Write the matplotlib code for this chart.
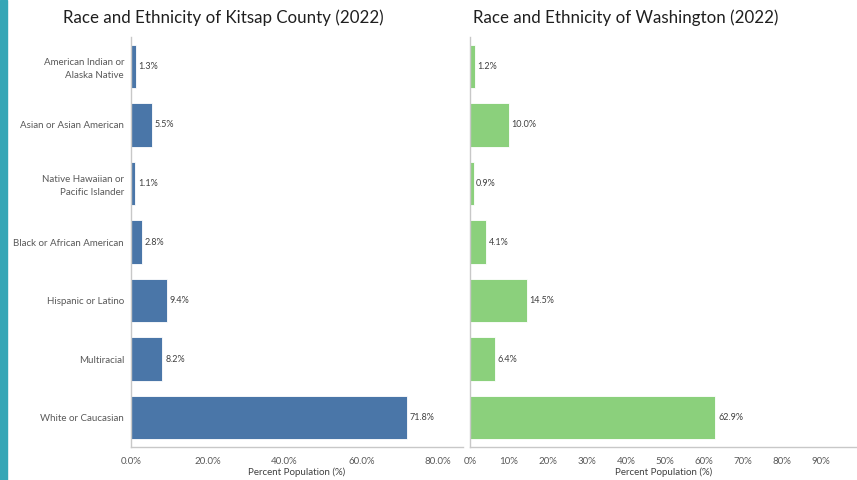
import matplotlib
matplotlib.use("Agg")
import matplotlib.pyplot as plt
from matplotlib.patches import Rectangle

plt.rcParams['font.family'] = ['Lato', 'DejaVu Sans']

categories = [
    'American Indian or\nAlaska Native',
    'Asian or Asian American',
    'Native Hawaiian or\nPacific Islander',
    'Black or African American',
    'Hispanic or Latino',
    'Multiracial',
    'White or Caucasian',
]
kitsap = [1.3, 5.5, 1.1, 2.8, 9.4, 8.2, 71.8]
washington = [1.2, 10.0, 0.9, 4.1, 14.5, 6.4, 62.9]

kitsap_ticks = [0, 20, 40, 60, 80]
wa_ticks = [0, 10, 20, 30, 40, 50, 60, 70, 80, 90]

BLUE = '#4a76a8'
GREEN = '#8bd07c'
TEXT = '#404040'
TICK = '#595959'
SPINE = '#c8c8c8'

fig = plt.figure(figsize=(8.57, 4.8), dpi=100)
fig.patches.append(Rectangle((0, 0), 7 / 857, 1, transform=fig.transFigure,
                             color='#35a6b6', zorder=-1))


def draw_panel(ax, values, color, ticks, fmt, xmax, show_labels):
    ypos = list(range(len(values)))
    ax.barh(ypos, values, height=0.74, color=color, edgecolor='white', linewidth=0.6)
    for y, v in zip(ypos, values):
        ax.text(v + 0.7, y, f'{v:.1f}%', va='center', ha='left',
                fontsize=6.5, color=TEXT)
    ax.set_ylim(6.5, -0.5)
    ax.set_xlim(0, xmax)
    ax.set_yticks(ypos)
    if show_labels:
        ax.set_yticklabels(categories, fontsize=7, color=TICK, linespacing=1.5)
    else:
        ax.set_yticklabels([])
    ax.set_xticks(ticks)
    ax.set_xticklabels([fmt.format(t) for t in ticks], fontsize=7, color=TICK)
    ax.tick_params(length=0, pad=7)
    ax.tick_params(axis='y', pad=5)
    for side in ('top', 'right'):
        ax.spines[side].set_visible(False)
    for side in ('left', 'bottom'):
        ax.spines[side].set_color(SPINE)
        ax.spines[side].set_linewidth(1.0)
    ax.set_xlabel('Percent Population (%)', fontsize=7, color=TEXT, labelpad=1)


ax1 = fig.add_axes([131 / 857, 33 / 480, 332 / 857, 410 / 480])
draw_panel(ax1, kitsap, BLUE, kitsap_ticks, '{:.1f}%', 86.5, True)

ax2 = fig.add_axes([470 / 857, 33 / 480, 387 / 857, 410 / 480])
draw_panel(ax2, washington, GREEN, wa_ticks, '{}%', 99.2, False)

# chart titles sit above each panel, placed in figure coordinates
fig.text(223 / 857, 1 - 18 / 480, 'Race and Ethnicity of Kitsap County (2022)',
         ha='center', va='center', fontsize=12.2, color='#1f1f1f')
fig.text(473 / 857, 1 - 18 / 480, 'Race and Ethnicity of Washington (2022)',
         ha='left', va='center', fontsize=12.2, color='#1f1f1f')

fig.savefig('out.png', dpi=100)
